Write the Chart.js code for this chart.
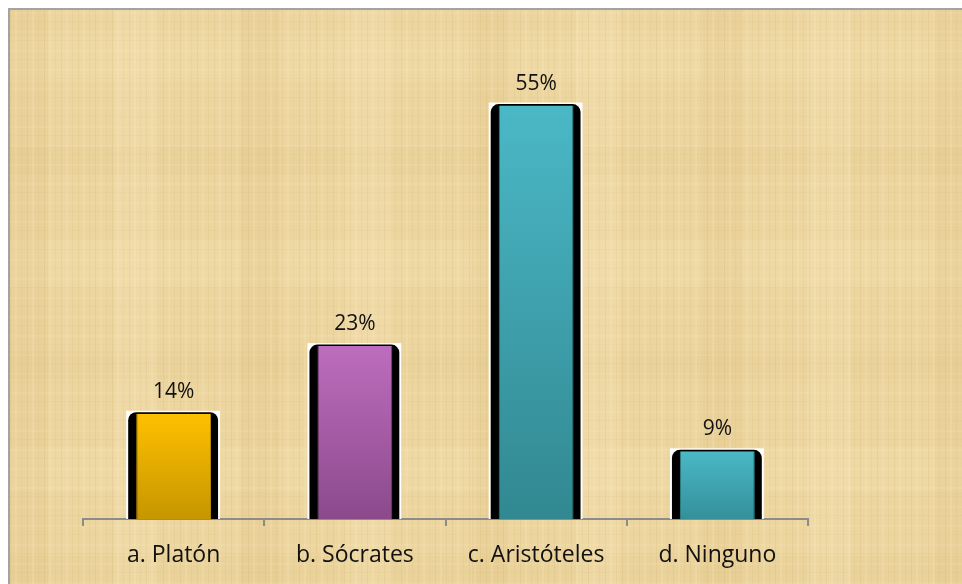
<!DOCTYPE html>
<html>
<head>
<meta charset="utf-8">
<script src="https://cdn.jsdelivr.net/npm/chart.js@4/dist/chart.umd.min.js"></script>
<style>
    html, body { margin: 0; padding: 0; background: #fff; }
    #frame {
        position: absolute; left: 8px; top: 8px; width: 954px; height: 576px;
        border-top: 2px solid #a3a3a3; border-left: 2px solid #a3a3a3;
        box-sizing: border-box;
        background-color: #ecd59f;
        background-image:
            repeating-linear-gradient(90deg, rgba(170,130,60,0.09) 0 1px, transparent 1px 5px, rgba(255,242,205,0.16) 5px 7px, transparent 7px 11px, rgba(170,130,60,0.06) 11px 12px, transparent 12px 17px),
            repeating-linear-gradient(0deg, rgba(255,244,212,0.10) 0 2px, transparent 2px 11px, rgba(180,140,70,0.05) 11px 12px, transparent 12px 19px),
            repeating-linear-gradient(90deg, rgba(205,170,95,0.10) 0 38px, transparent 38px 104px, rgba(255,240,205,0.14) 104px 148px, transparent 148px 231px),
            repeating-linear-gradient(0deg, rgba(205,170,95,0.07) 0 28px, transparent 28px 92px, rgba(255,240,205,0.11) 92px 137px, transparent 137px 205px);
    }
    #chart { position: absolute; left: 0; top: 0; }
</style>
</head>
<body>
<div id="frame"></div>
<canvas id="chart" width="962" height="584"></canvas>
<script>
// Chart data
const categories = ['a. Platón', 'b. Sócrates', 'c. Aristóteles', 'd. Ninguno'];
const percentages = [14, 23, 55, 9];
const topColors = ['#ffc000', '#bd6dbd', '#4bb8c6', '#4bb8c6'];
const bottomColors = ['#c69600', '#8b4a8c', '#318891', '#33909a'];
const edgeColors = ['#b88c00', '#7f437f', '#2d7d85', '#2d7d85'];

// white highlight + black rounded shadow behind every bar
const shadowPlugin = {
    id: 'barShadow',
    beforeDatasetsDraw(chart) {
        const ctx = chart.ctx;
        chart.getDatasetMeta(0).data.forEach(bar => {
            const { x, y, base, width } = bar.getProps(['x', 'y', 'base', 'width'], true);
            const left = x - width / 2;
            ctx.save();
            ctx.fillStyle = '#ffffff';
            ctx.fillRect(left - 10, y - 3, width + 19, base - y + 3);
            ctx.fillStyle = '#000000';
            ctx.beginPath();
            ctx.roundRect(left - 8, y - 1.5, width + 15, base - y + 1.5, [8, 8, 0, 0]);
            ctx.fill();
            ctx.restore();
        });
    }
};

// percentage labels above bars
const valueLabels = {
    id: 'valueLabels',
    afterDatasetsDraw(chart) {
        const ctx = chart.ctx;
        ctx.save();
        ctx.font = '21px "Open Sans", sans-serif';
        ctx.fillStyle = '#111';
        ctx.textAlign = 'center';
        ctx.textBaseline = 'alphabetic';
        chart.getDatasetMeta(0).data.forEach((bar, i) => {
            ctx.fillText(percentages[i] + '%', bar.x, bar.y - 16);
        });
        ctx.restore();
    }
};

function barGradient(context) {
    const chart = context.chart;
    const i = context.dataIndex;
    const yScale = chart.scales.y;
    if (!yScale || !chart.chartArea) return topColors[i];
    const top = yScale.getPixelForValue(percentages[i]);
    const base = yScale.getPixelForValue(0);
    const g = chart.ctx.createLinearGradient(0, top, 0, base);
    g.addColorStop(0, topColors[i]);
    g.addColorStop(1, bottomColors[i]);
    return g;
}

new Chart(document.getElementById('chart'), {
    type: 'bar',
    data: {
        labels: categories,
        datasets: [{
            data: percentages,
            backgroundColor: barGradient,
            borderColor: edgeColors,
            borderWidth: { left: 1, right: 1, top: 0, bottom: 0 },
            barPercentage: 0.413,
            categoryPercentage: 1
        }]
    },
    options: {
        responsive: false,
        animation: false,
        layout: { padding: { left: 83, right: 154, top: 68, bottom: 0 } },
        plugins: {
            legend: { display: false },
            tooltip: { enabled: false }
        },
        scales: {
            x: {
                z: 1,
                offset: true,
                afterFit(scale) { scale.height = 65; },
                border: { display: true, color: '#8c8c8c', width: 2 },
                grid: {
                    offset: true,
                    drawOnChartArea: false,
                    drawTicks: true,
                    tickLength: 7,
                    color: '#8c8c8c',
                    lineWidth: 2
                },
                ticks: {
                    color: '#111',
                    padding: 16,
                    font: { family: '"Open Sans", sans-serif', size: 23 }
                }
            },
            y: {
                display: false,
                min: 0,
                max: 60
            }
        }
    },
    plugins: [shadowPlugin, valueLabels]
});
</script>
</body>
</html>
